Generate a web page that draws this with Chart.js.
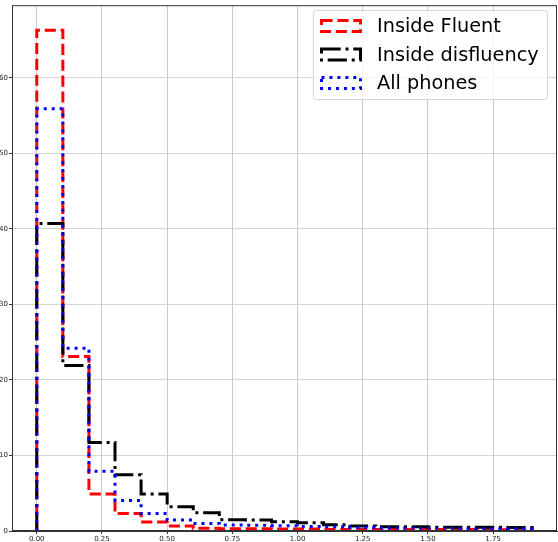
<!DOCTYPE html>
<html><head><meta charset="utf-8">
<script src="https://cdn.jsdelivr.net/npm/chart.js@4.4.0/dist/chart.umd.min.js"></script>
<style>html,body{margin:0;padding:0;background:#fff;}#wrap{width:558px;height:542px;position:relative;}</style>
</head><body><div id="wrap"><canvas id="c" width="558" height="542"></canvas></div>
<script>
const binEdges = [0,0.1,0.2,0.3,0.4,0.5,0.6,0.7,0.8,0.9,1.0,1.1,1.2,1.3,1.4,1.5,1.6,1.7,1.8,1.9];
const insideFluent = [66.3,23.1,4.9,2.3,1.2,0.65,0.35,0.3,0.3,0.25,0.25,0.2,0.2,0.2,0.2,0.2,0.2,0.15,0.15];
const insideDisfluency = [40.7,21.9,11.7,7.45,4.9,3.2,2.4,1.5,1.44,1.22,1.09,0.83,0.65,0.55,0.55,0.5,0.5,0.5,0.45];
const allPhones = [55.9,24.2,7.9,4.05,2.3,1.45,1.0,0.8,0.75,0.7,0.6,0.55,0.45,0.4,0.35,0.35,0.3,0.3,0.3];
const xTicks = [0,0.25,0.5,0.75,1.0,1.25,1.5,1.75];
const yTicks = [0,10,20,30,40,50,60];
const seriesLabels = ['Inside Fluent','Inside disfluency','All phones'];

function stepPoints(vals){
  const pts=[{x:binEdges[0],y:0}];
  vals.forEach((v,i)=>{pts.push({x:binEdges[i],y:v});pts.push({x:binEdges[i+1],y:v});});
  pts.push({x:binEdges[vals.length],y:0});
  return pts;
}

const LW=3;
const datasets=[
  {label:seriesLabels[0],data:stepPoints(insideFluent),borderColor:'#ff0000',borderDash:[11.1,4.8],order:2},
  {label:seriesLabels[1],data:stepPoints(insideDisfluency),borderColor:'#000000',borderDash:[19.2,4.8,3,4.8],order:1},
  {label:seriesLabels[2],data:stepPoints(allPhones),borderColor:'#0000ff',borderDash:[3,4.95],order:0}
].map(d=>Object.assign(d,{showLine:true,pointRadius:0,borderWidth:LW,fill:false,tension:0,backgroundColor:'rgba(0,0,0,0)',borderCapStyle:'butt',borderJoinStyle:'miter'}));

const framePlugin={
  id:'frame',
  afterDraw(chart){
    const {ctx,chartArea:a}=chart;
    ctx.save();
    ctx.strokeStyle='#333';ctx.lineWidth=1;ctx.setLineDash([]);
    ctx.strokeRect(a.left+0.5,a.top+0.5,a.right-a.left-1,a.bottom-a.top-1);
    // legend
    const lx=313.5,ly=10.5,lw=234,lh=89,r=3;
    ctx.beginPath();
    ctx.moveTo(lx+r,ly);ctx.lineTo(lx+lw-r,ly);ctx.arcTo(lx+lw,ly,lx+lw,ly+r,r);
    ctx.lineTo(lx+lw,ly+lh-r);ctx.arcTo(lx+lw,ly+lh,lx+lw-r,ly+lh,r);
    ctx.lineTo(lx+r,ly+lh);ctx.arcTo(lx,ly+lh,lx,ly+lh-r,r);
    ctx.lineTo(lx,ly+r);ctx.arcTo(lx,ly,lx+r,ly,r);ctx.closePath();
    ctx.fillStyle='rgba(255,255,255,0.8)';ctx.fill();
    ctx.strokeStyle='#d6d6d6';ctx.lineWidth=1;ctx.stroke();
    const rows=[26,54.5,83];
    chart.data.datasets.forEach((d,i)=>{
      const cy=rows[i];
      ctx.strokeStyle=d.borderColor;ctx.lineWidth=LW;ctx.setLineDash(d.borderDash);
      ctx.strokeRect(321.5,cy-5.5,39,11);
      ctx.setLineDash([]);
      ctx.fillStyle='#000';ctx.font='19.3px "DejaVu Sans"';ctx.textBaseline='middle';ctx.textAlign='left';
      ctx.fillText(d.label,377,cy+1);
    });
    ctx.restore();
  }
};

new Chart(document.getElementById('c'),{
  type:'scatter',
  data:{datasets},
  options:{
    responsive:false,animation:false,devicePixelRatio:1,
    layout:{padding:{left:0,right:1,top:0,bottom:0}},
    plugins:{legend:{display:false},tooltip:{enabled:false}},
    scales:{
      x:{type:'linear',min:-0.095,max:1.995,
        afterBuildTicks:s=>{s.ticks=xTicks.map(v=>({value:v}));},
        afterFit:s=>{s.height=11;},
        ticks:{font:{family:'DejaVu Sans',size:7},color:'#222',padding:1,maxRotation:0,autoSkip:false,callback:v=>Number(v).toFixed(2)},
        grid:{color:'#cacaca',lineWidth:1,tickLength:3,tickColor:'#333'},
        border:{display:true,color:'#333'}
      },
      y:{min:0,max:69.6,
        afterBuildTicks:s=>{s.ticks=yTicks.map(v=>({value:v}));},
        afterFit:s=>{s.width=12;},
        ticks:{font:{family:'DejaVu Sans',size:7},color:'#222',padding:1,autoSkip:false,callback:v=>String(v)},
        grid:{color:'#d4d4d4',lineWidth:1,tickLength:3,tickColor:'#333'},
        border:{display:true,color:'#333'}
      }
    }
  },
  plugins:[framePlugin]
});
</script></body></html>
